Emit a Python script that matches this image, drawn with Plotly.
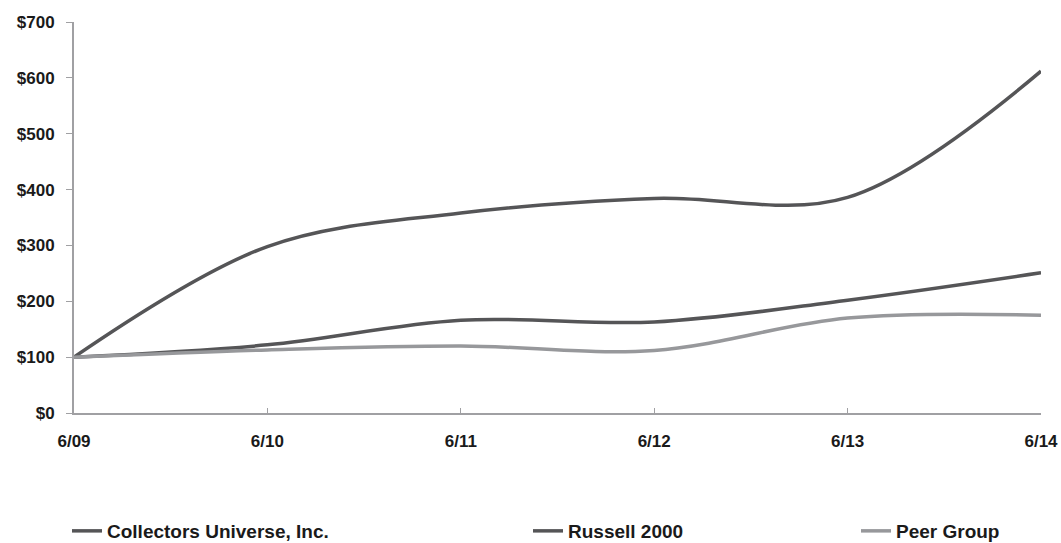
import plotly.graph_objects as go

periods = ["6/09", "6/10", "6/11", "6/12", "6/13", "6/14"]
collectors = [100, 298, 358, 384, 386, 612]
russell = [100, 122, 166, 163, 202, 251]
peer = [100, 113, 120, 112, 170, 175]

x = list(range(len(periods)))
dark = "#555557"
light = "#97989b"

fig = go.Figure()
fig.add_trace(go.Scatter(x=x, y=collectors, name="Collectors Universe, Inc.", mode="lines",
                         line=dict(color=dark, width=3.5, shape="spline", smoothing=1.0),
                         legend="legend", cliponaxis=False))
fig.add_trace(go.Scatter(x=x, y=russell, name="Russell 2000", mode="lines",
                         line=dict(color=dark, width=3.5, shape="spline", smoothing=1.0),
                         legend="legend2", cliponaxis=False))
fig.add_trace(go.Scatter(x=x, y=peer, name="Peer Group", mode="lines",
                         line=dict(color=light, width=3.5, shape="spline", smoothing=1.0),
                         legend="legend3", cliponaxis=False))

legfont = dict(family="Liberation Sans Narrow, Arial Narrow, Liberation Sans, Arial", size=19,
               color="#1a1a1a", weight="bold")
common = dict(orientation="h", xref="paper", yref="container", yanchor="top", font=legfont,
              bgcolor="rgba(0,0,0,0)", itemwidth=30, tracegroupgap=0)

PW = 1061 - 74 - 20
LY = (543 - 512) / 543

fig.update_layout(
    width=1061, height=543,
    margin=dict(l=74, r=20, t=22, b=130),
    plot_bgcolor="white", paper_bgcolor="white",
    showlegend=True,
    legend=dict(x=(67 - 74) / PW, y=LY, **common),
    legend2=dict(x=(528 - 74) / PW, y=LY, **common),
    legend3=dict(x=(856 - 74) / PW, y=LY, **common),
    xaxis=dict(
        range=[0, 5], tickvals=x, ticktext=periods, showgrid=False, zeroline=False,
        showline=True, linecolor="#a0a0a3", linewidth=2, ticks="inside", ticklen=5,
        tickcolor="#a0a0a3", ticklabelstandoff=12, automargin=False,
        tickfont=dict(family="Liberation Sans, Arial", size=17, color="#1a1a1a", weight="bold"),
    ),
    yaxis=dict(
        range=[0, 700], tickvals=[0, 100, 200, 300, 400, 500, 600, 700],
        ticktext=["$0", "$100", "$200", "$300", "$400", "$500", "$600", "$700"],
        showgrid=False, zeroline=False, showline=True, linecolor="#a0a0a3", linewidth=2,
        ticks="outside", ticklen=6, tickcolor="#a0a0a3", ticklabelstandoff=8, automargin=False,
        tickfont=dict(family="Liberation Sans, Arial", size=17, color="#1a1a1a", weight="bold"),
    ),
)

fig.write_html("out.html")
